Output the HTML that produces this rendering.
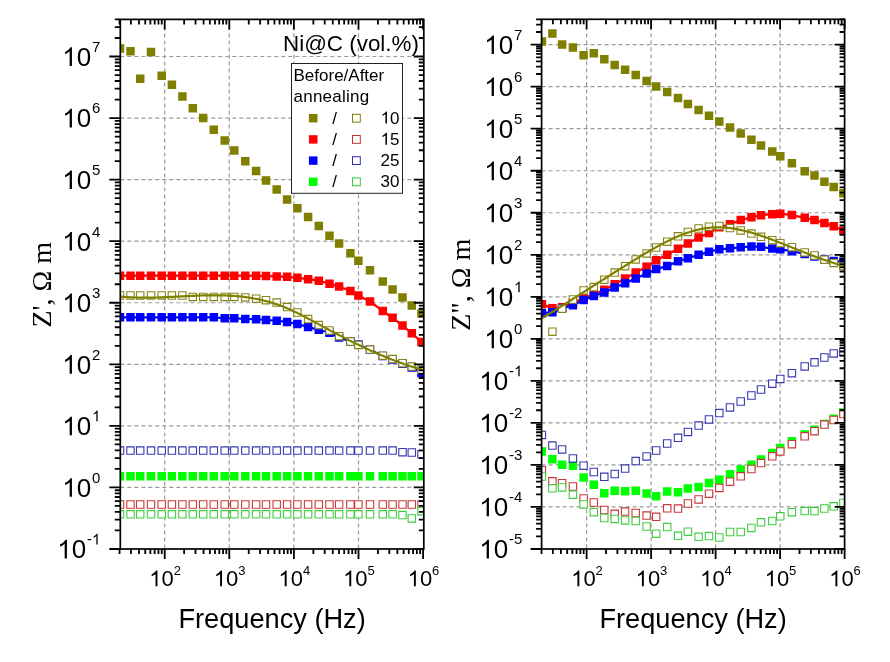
<!DOCTYPE html><html><head><meta charset="utf-8"><style>html,body{margin:0;padding:0;background:#fff;overflow:hidden;}svg{display:block;filter:blur(0.35px);}</style></head><body><svg width="890" height="662" viewBox="0 0 890 662" font-family='"Liberation Sans", sans-serif'>
<rect width="890" height="662" fill="#fff"/>
<g stroke="#9a9a9a" stroke-width="1.2" stroke-dasharray="4 3"><line x1="164.70" y1="19.40" x2="164.70" y2="549.00"/><line x1="229.30" y1="19.40" x2="229.30" y2="549.00"/><line x1="293.90" y1="19.40" x2="293.90" y2="549.00"/><line x1="358.50" y1="19.40" x2="358.50" y2="549.00"/><line x1="120.30" y1="487.44" x2="423.80" y2="487.44"/><line x1="120.30" y1="425.88" x2="423.80" y2="425.88"/><line x1="120.30" y1="364.32" x2="423.80" y2="364.32"/><line x1="120.30" y1="302.76" x2="423.80" y2="302.76"/><line x1="120.30" y1="241.20" x2="423.80" y2="241.20"/><line x1="120.30" y1="179.64" x2="423.80" y2="179.64"/><line x1="120.30" y1="118.08" x2="423.80" y2="118.08"/><line x1="120.30" y1="56.52" x2="423.80" y2="56.52"/></g>
<g stroke="#9a9a9a" stroke-width="1.2" stroke-dasharray="4 3"><line x1="586.60" y1="19.30" x2="586.60" y2="549.00"/><line x1="651.10" y1="19.30" x2="651.10" y2="549.00"/><line x1="715.60" y1="19.30" x2="715.60" y2="549.00"/><line x1="780.10" y1="19.30" x2="780.10" y2="549.00"/><line x1="541.60" y1="506.97" x2="844.60" y2="506.97"/><line x1="541.60" y1="464.94" x2="844.60" y2="464.94"/><line x1="541.60" y1="422.91" x2="844.60" y2="422.91"/><line x1="541.60" y1="380.88" x2="844.60" y2="380.88"/><line x1="541.60" y1="338.85" x2="844.60" y2="338.85"/><line x1="541.60" y1="296.82" x2="844.60" y2="296.82"/><line x1="541.60" y1="254.79" x2="844.60" y2="254.79"/><line x1="541.60" y1="212.76" x2="844.60" y2="212.76"/><line x1="541.60" y1="170.73" x2="844.60" y2="170.73"/><line x1="541.60" y1="128.70" x2="844.60" y2="128.70"/><line x1="541.60" y1="86.67" x2="844.60" y2="86.67"/><line x1="541.60" y1="44.64" x2="844.60" y2="44.64"/></g>
<clipPath id="cl"><rect x="120.30" y="19.40" width="303.50" height="529.60"/></clipPath>
<g clip-path="url(#cl)">
<path d="M115.75 44.15h8.5v8.5h-8.5zM126.25 47.05h8.5v8.5h-8.5zM135.95 74.55h8.5v8.5h-8.5zM146.75 47.75h8.5v8.5h-8.5zM157.45 71.45h8.5v8.5h-8.5zM167.65 80.45h8.5v8.5h-8.5zM178.15 92.15h8.5v8.5h-8.5zM188.55 103.95h8.5v8.5h-8.5zM198.95 113.85h8.5v8.5h-8.5zM209.55 125.55h8.5v8.5h-8.5zM220.45 136.35h8.5v8.5h-8.5zM230.05 146.25h8.5v8.5h-8.5zM241.05 157.05h8.5v8.5h-8.5zM251.85 166.75h8.5v8.5h-8.5zM261.75 176.35h8.5v8.5h-8.5zM272.45 185.25h8.5v8.5h-8.5zM282.85 195.25h8.5v8.5h-8.5zM293.15 203.95h8.5v8.5h-8.5zM303.85 212.85h8.5v8.5h-8.5zM314.55 221.85h8.5v8.5h-8.5zM325.25 231.45h8.5v8.5h-8.5zM334.85 239.15h8.5v8.5h-8.5zM346.15 249.05h8.5v8.5h-8.5zM354.15 256.45h8.5v8.5h-8.5zM365.75 265.95h8.5v8.5h-8.5zM378.55 277.35h8.5v8.5h-8.5zM388.35 285.25h8.5v8.5h-8.5zM398.25 293.15h8.5v8.5h-8.5zM407.55 301.15h8.5v8.5h-8.5zM417.25 309.35h8.5v8.5h-8.5z" fill="#808000"/>
<path d="M120.0 275.7 L130.5 275.7 L140.2 275.7 L151.0 275.7 L161.7 275.7 L171.9 275.7 L182.4 275.7 L192.8 275.7 L203.2 275.7 L213.8 275.7 L224.7 275.7 L234.3 275.7 L245.3 275.7 L256.1 275.8 L266.0 276.1 L276.7 276.4 L287.1 276.8 L297.4 277.8 L308.1 279.2 L318.8 280.7 L329.5 283.7 L339.1 286.6 L350.4 291.1 L358.4 295.5 L370.0 301.4 L382.8 311.0 L392.6 317.8 L402.5 325.5 L411.8 333.3 L421.5 342.1" fill="none" stroke="#ff0000" stroke-width="2.2"/>
<path d="M115.75 271.45h8.5v8.5h-8.5zM126.25 271.45h8.5v8.5h-8.5zM135.95 271.45h8.5v8.5h-8.5zM146.75 271.45h8.5v8.5h-8.5zM157.45 271.45h8.5v8.5h-8.5zM167.65 271.45h8.5v8.5h-8.5zM178.15 271.45h8.5v8.5h-8.5zM188.55 271.45h8.5v8.5h-8.5zM198.95 271.45h8.5v8.5h-8.5zM209.55 271.45h8.5v8.5h-8.5zM220.45 271.45h8.5v8.5h-8.5zM230.05 271.45h8.5v8.5h-8.5zM241.05 271.45h8.5v8.5h-8.5zM251.85 271.55h8.5v8.5h-8.5zM261.75 271.85h8.5v8.5h-8.5zM272.45 272.15h8.5v8.5h-8.5zM282.85 272.55h8.5v8.5h-8.5zM293.15 273.55h8.5v8.5h-8.5zM303.85 274.95h8.5v8.5h-8.5zM314.55 276.45h8.5v8.5h-8.5zM325.25 279.45h8.5v8.5h-8.5zM334.85 282.35h8.5v8.5h-8.5zM346.15 286.85h8.5v8.5h-8.5zM354.15 291.25h8.5v8.5h-8.5zM365.75 297.15h8.5v8.5h-8.5zM378.55 306.75h8.5v8.5h-8.5zM388.35 313.55h8.5v8.5h-8.5zM398.25 321.25h8.5v8.5h-8.5zM407.55 329.05h8.5v8.5h-8.5zM417.25 337.85h8.5v8.5h-8.5z" fill="#ff0000"/>
<path d="M120.0 317.3 L130.5 317.3 L140.2 317.3 L151.0 317.3 L161.7 317.3 L171.9 317.3 L182.4 317.3 L192.8 317.3 L203.2 317.3 L213.8 317.3 L224.7 318.3 L234.3 318.3 L245.3 318.9 L256.1 319.2 L266.0 320.0 L276.7 320.7 L287.1 322.0 L297.4 323.9 L308.1 327.1 L318.8 329.7 L329.5 332.7 L339.1 337.5 L350.4 341.5 L358.4 344.5 L370.0 349.8 L382.8 356.0 L392.6 359.5 L402.5 363.8 L411.8 367.5 L421.5 373.0" fill="none" stroke="#0000ff" stroke-width="2.2"/>
<path d="M115.75 313.05h8.5v8.5h-8.5zM126.25 313.05h8.5v8.5h-8.5zM135.95 313.05h8.5v8.5h-8.5zM146.75 313.05h8.5v8.5h-8.5zM157.45 313.05h8.5v8.5h-8.5zM167.65 313.05h8.5v8.5h-8.5zM178.15 313.05h8.5v8.5h-8.5zM188.55 313.05h8.5v8.5h-8.5zM198.95 313.05h8.5v8.5h-8.5zM209.55 313.05h8.5v8.5h-8.5zM220.45 314.05h8.5v8.5h-8.5zM230.05 314.05h8.5v8.5h-8.5zM241.05 314.65h8.5v8.5h-8.5zM251.85 314.95h8.5v8.5h-8.5zM261.75 315.75h8.5v8.5h-8.5zM272.45 316.45h8.5v8.5h-8.5zM282.85 317.75h8.5v8.5h-8.5zM293.15 319.65h8.5v8.5h-8.5zM303.85 322.85h8.5v8.5h-8.5zM314.55 325.45h8.5v8.5h-8.5zM325.25 328.45h8.5v8.5h-8.5zM334.85 333.25h8.5v8.5h-8.5zM346.15 337.25h8.5v8.5h-8.5zM354.15 340.25h8.5v8.5h-8.5zM365.75 345.55h8.5v8.5h-8.5zM378.55 351.75h8.5v8.5h-8.5zM388.35 355.25h8.5v8.5h-8.5zM398.25 359.55h8.5v8.5h-8.5zM407.55 363.25h8.5v8.5h-8.5zM417.25 368.75h8.5v8.5h-8.5z" fill="#0000ff"/>
<path d="M115.75 472.05h8.5v8.5h-8.5zM126.25 472.05h8.5v8.5h-8.5zM135.95 472.05h8.5v8.5h-8.5zM146.75 472.05h8.5v8.5h-8.5zM157.45 472.05h8.5v8.5h-8.5zM167.65 472.05h8.5v8.5h-8.5zM178.15 472.05h8.5v8.5h-8.5zM188.55 472.05h8.5v8.5h-8.5zM198.95 472.05h8.5v8.5h-8.5zM209.55 472.05h8.5v8.5h-8.5zM220.45 472.05h8.5v8.5h-8.5zM230.05 472.05h8.5v8.5h-8.5zM241.05 472.05h8.5v8.5h-8.5zM251.85 472.05h8.5v8.5h-8.5zM261.75 472.05h8.5v8.5h-8.5zM272.45 472.05h8.5v8.5h-8.5zM282.85 472.05h8.5v8.5h-8.5zM293.15 472.05h8.5v8.5h-8.5zM303.85 472.05h8.5v8.5h-8.5zM314.55 472.05h8.5v8.5h-8.5zM325.25 472.05h8.5v8.5h-8.5zM334.85 472.05h8.5v8.5h-8.5zM346.15 472.05h8.5v8.5h-8.5zM354.15 472.05h8.5v8.5h-8.5zM365.75 472.05h8.5v8.5h-8.5zM378.55 472.05h8.5v8.5h-8.5zM388.35 472.05h8.5v8.5h-8.5zM398.25 472.05h8.5v8.5h-8.5zM407.55 472.05h8.5v8.5h-8.5zM417.25 472.05h8.5v8.5h-8.5z" fill="#00ff00"/>
<path d="M116.30 291.80h7.40v7.40h-7.40zM126.80 291.80h7.40v7.40h-7.40zM136.50 291.80h7.40v7.40h-7.40zM147.30 291.80h7.40v7.40h-7.40zM158.00 291.80h7.40v7.40h-7.40zM168.20 291.80h7.40v7.40h-7.40zM178.70 291.80h7.40v7.40h-7.40zM189.10 293.20h7.40v7.40h-7.40zM199.50 293.20h7.40v7.40h-7.40zM210.10 293.20h7.40v7.40h-7.40zM221.00 293.20h7.40v7.40h-7.40zM230.60 293.20h7.40v7.40h-7.40zM241.60 293.70h7.40v7.40h-7.40zM252.40 295.00h7.40v7.40h-7.40zM262.30 296.50h7.40v7.40h-7.40zM273.00 298.90h7.40v7.40h-7.40zM283.40 303.40h7.40v7.40h-7.40zM293.70 308.80h7.40v7.40h-7.40zM304.40 315.40h7.40v7.40h-7.40zM315.10 321.40h7.40v7.40h-7.40zM325.80 326.80h7.40v7.40h-7.40zM335.40 332.50h7.40v7.40h-7.40zM346.70 337.80h7.40v7.40h-7.40zM354.70 341.20h7.40v7.40h-7.40zM366.30 345.90h7.40v7.40h-7.40zM379.10 352.00h7.40v7.40h-7.40zM388.90 355.40h7.40v7.40h-7.40zM398.80 359.50h7.40v7.40h-7.40zM408.10 362.90h7.40v7.40h-7.40zM417.80 365.80h7.40v7.40h-7.40z" fill="#fff" stroke="#85851a" stroke-width="1.1"/>
<path d="M116.30 500.80h7.40v7.40h-7.40zM126.80 500.80h7.40v7.40h-7.40zM136.50 500.80h7.40v7.40h-7.40zM147.30 500.80h7.40v7.40h-7.40zM158.00 500.80h7.40v7.40h-7.40zM168.20 500.80h7.40v7.40h-7.40zM178.70 500.80h7.40v7.40h-7.40zM189.10 500.80h7.40v7.40h-7.40zM199.50 500.80h7.40v7.40h-7.40zM210.10 500.80h7.40v7.40h-7.40zM221.00 500.80h7.40v7.40h-7.40zM230.60 500.80h7.40v7.40h-7.40zM241.60 500.80h7.40v7.40h-7.40zM252.40 500.80h7.40v7.40h-7.40zM262.30 500.80h7.40v7.40h-7.40zM273.00 500.80h7.40v7.40h-7.40zM283.40 500.80h7.40v7.40h-7.40zM293.70 500.80h7.40v7.40h-7.40zM304.40 500.80h7.40v7.40h-7.40zM315.10 500.80h7.40v7.40h-7.40zM325.80 500.80h7.40v7.40h-7.40zM335.40 500.80h7.40v7.40h-7.40zM346.70 500.80h7.40v7.40h-7.40zM354.70 500.80h7.40v7.40h-7.40zM366.30 500.80h7.40v7.40h-7.40zM379.10 500.80h7.40v7.40h-7.40zM388.90 500.80h7.40v7.40h-7.40zM398.80 500.80h7.40v7.40h-7.40zM408.10 500.80h7.40v7.40h-7.40zM417.80 500.80h7.40v7.40h-7.40z" fill="#fff" stroke="#c83838" stroke-width="1.1"/>
<path d="M116.30 446.90h7.40v7.40h-7.40zM126.80 446.90h7.40v7.40h-7.40zM136.50 446.90h7.40v7.40h-7.40zM147.30 446.90h7.40v7.40h-7.40zM158.00 446.90h7.40v7.40h-7.40zM168.20 446.90h7.40v7.40h-7.40zM178.70 446.90h7.40v7.40h-7.40zM189.10 446.90h7.40v7.40h-7.40zM199.50 446.90h7.40v7.40h-7.40zM210.10 446.90h7.40v7.40h-7.40zM221.00 446.90h7.40v7.40h-7.40zM230.60 446.90h7.40v7.40h-7.40zM241.60 446.90h7.40v7.40h-7.40zM252.40 446.90h7.40v7.40h-7.40zM262.30 446.90h7.40v7.40h-7.40zM273.00 446.90h7.40v7.40h-7.40zM283.40 446.90h7.40v7.40h-7.40zM293.70 446.90h7.40v7.40h-7.40zM304.40 446.90h7.40v7.40h-7.40zM315.10 446.90h7.40v7.40h-7.40zM325.80 446.90h7.40v7.40h-7.40zM335.40 446.90h7.40v7.40h-7.40zM346.70 446.90h7.40v7.40h-7.40zM354.70 446.90h7.40v7.40h-7.40zM366.30 446.90h7.40v7.40h-7.40zM379.10 446.90h7.40v7.40h-7.40zM388.90 446.90h7.40v7.40h-7.40zM398.80 448.50h7.40v7.40h-7.40zM408.10 448.80h7.40v7.40h-7.40zM417.80 450.60h7.40v7.40h-7.40z" fill="#fff" stroke="#3838b0" stroke-width="1.1"/>
<path d="M116.30 510.60h7.40v7.40h-7.40zM126.80 510.60h7.40v7.40h-7.40zM136.50 510.60h7.40v7.40h-7.40zM147.30 510.60h7.40v7.40h-7.40zM158.00 510.60h7.40v7.40h-7.40zM168.20 510.60h7.40v7.40h-7.40zM178.70 510.60h7.40v7.40h-7.40zM189.10 510.60h7.40v7.40h-7.40zM199.50 510.60h7.40v7.40h-7.40zM210.10 510.60h7.40v7.40h-7.40zM221.00 510.60h7.40v7.40h-7.40zM230.60 510.60h7.40v7.40h-7.40zM241.60 510.60h7.40v7.40h-7.40zM252.40 510.60h7.40v7.40h-7.40zM262.30 510.60h7.40v7.40h-7.40zM273.00 510.60h7.40v7.40h-7.40zM283.40 510.60h7.40v7.40h-7.40zM293.70 510.60h7.40v7.40h-7.40zM304.40 510.60h7.40v7.40h-7.40zM315.10 510.60h7.40v7.40h-7.40zM325.80 510.60h7.40v7.40h-7.40zM335.40 510.60h7.40v7.40h-7.40zM346.70 510.60h7.40v7.40h-7.40zM354.70 510.60h7.40v7.40h-7.40zM366.30 510.60h7.40v7.40h-7.40zM379.10 510.60h7.40v7.40h-7.40zM388.90 510.60h7.40v7.40h-7.40zM398.80 511.40h7.40v7.40h-7.40zM408.10 514.70h7.40v7.40h-7.40zM417.80 507.50h7.40v7.40h-7.40z" fill="#fff" stroke="#40cc40" stroke-width="1.1"/>
<path d="M112.0 295.5 L113.5 295.8 L115.0 296.0 L116.5 296.1 L118.0 296.3 L119.5 296.5 L121.0 296.6 L122.5 296.8 L124.0 296.9 L125.5 297.0 L127.0 297.1 L128.5 297.2 L130.0 297.3 L131.5 297.4 L133.0 297.4 L134.5 297.5 L136.0 297.5 L137.5 297.6 L139.0 297.6 L140.5 297.6 L142.0 297.7 L143.5 297.7 L145.0 297.7 L146.5 297.7 L148.0 297.7 L149.5 297.6 L151.0 297.6 L152.5 297.6 L154.0 297.6 L155.5 297.5 L157.0 297.5 L158.5 297.4 L160.0 297.4 L161.5 297.3 L163.0 297.3 L164.5 297.2 L166.0 297.1 L167.5 297.1 L169.0 297.0 L170.5 296.9 L172.0 296.9 L173.5 296.8 L175.0 296.7 L176.5 296.6 L178.0 296.6 L179.5 296.5 L181.0 296.4 L182.5 296.3 L184.0 296.3 L185.5 296.2 L187.0 296.1 L188.5 296.0 L190.0 296.0 L191.5 295.9 L193.0 295.8 L194.5 295.8 L196.0 295.7 L197.5 295.6 L199.0 295.6 L200.5 295.5 L202.0 295.5 L203.5 295.4 L205.0 295.4 L206.5 295.4 L208.0 295.3 L209.5 295.3 L211.0 295.3 L212.5 295.3 L214.0 295.3 L215.5 295.3 L217.0 295.3 L218.5 295.3 L220.0 295.3 L221.5 295.4 L223.0 295.4 L224.5 295.4 L226.0 295.5 L227.5 295.6 L229.0 295.6 L230.5 295.7 L232.0 295.8 L233.5 295.9 L235.0 296.0 L236.5 296.1 L238.0 296.3 L239.5 296.4 L241.0 296.6 L242.5 296.7 L244.0 296.9 L245.5 297.1 L247.0 297.3 L248.5 297.5 L250.0 297.8 L251.5 298.0 L253.0 298.3 L254.5 298.5 L256.0 298.8 L257.5 299.1 L259.0 299.4 L260.5 299.8 L262.0 300.1 L263.5 300.5 L265.0 300.8 L266.5 301.2 L268.0 301.6 L269.5 302.1 L271.0 302.5 L272.5 303.0 L274.0 303.4 L275.5 303.9 L277.0 304.4 L278.5 304.9 L280.0 305.5 L281.5 306.0 L283.0 306.6 L284.5 307.2 L286.0 307.8 L287.5 308.5 L289.0 309.1 L290.5 309.8 L292.0 310.5 L293.5 311.2 L295.0 311.9 L296.5 312.6 L298.0 313.3 L299.5 314.1 L301.0 314.8 L302.5 315.6 L304.0 316.4 L305.5 317.2 L307.0 318.0 L308.5 318.8 L310.0 319.6 L311.5 320.4 L313.0 321.2 L314.5 322.0 L316.0 322.8 L317.5 323.6 L319.0 324.4 L320.5 325.2 L322.0 326.1 L323.5 326.9 L325.0 327.7 L326.5 328.5 L328.0 329.3 L329.5 330.1 L331.0 330.9 L332.5 331.7 L334.0 332.4 L335.5 333.2 L337.0 334.0 L338.5 334.8 L340.0 335.6 L341.5 336.3 L343.0 337.1 L344.5 337.9 L346.0 338.6 L347.5 339.4 L349.0 340.2 L350.5 340.9 L352.0 341.7 L353.5 342.4 L355.0 343.1 L356.5 343.9 L358.0 344.6 L359.5 345.3 L361.0 346.0 L362.5 346.8 L364.0 347.5 L365.5 348.2 L367.0 348.9 L368.5 349.6 L370.0 350.2 L371.5 350.9 L373.0 351.6 L374.5 352.3 L376.0 352.9 L377.5 353.6 L379.0 354.2 L380.5 354.9 L382.0 355.5 L383.5 356.1 L385.0 356.8 L386.5 357.4 L388.0 358.0 L389.5 358.6 L391.0 359.2 L392.5 359.8 L394.0 360.3 L395.5 360.9 L397.0 361.5 L398.5 362.0 L400.0 362.6 L401.5 363.1 L403.0 363.6 L404.5 364.2 L406.0 364.7 L407.5 365.2 L409.0 365.7 L410.5 366.2 L412.0 366.6 L413.5 367.1 L415.0 367.6 L416.5 368.0 L418.0 368.5 L419.5 368.9 L421.0 369.3 L422.5 369.7 L424.0 370.1 L425.5 370.5 L427.0 370.9 L428.5 371.3 L430.0 371.6" fill="none" stroke="#808000" stroke-width="2.2" stroke-linejoin="round"/>
<path d="" fill="#808000"/>
</g>
<clipPath id="cr"><rect x="541.60" y="19.30" width="303.00" height="529.70"/></clipPath>
<g clip-path="url(#cr)">
<path d="M537.65 37.25h8.5v8.5h-8.5zM548.15 29.35h8.5v8.5h-8.5zM557.85 40.15h8.5v8.5h-8.5zM568.65 43.25h8.5v8.5h-8.5zM579.35 50.95h8.5v8.5h-8.5zM589.55 49.05h8.5v8.5h-8.5zM600.05 54.95h8.5v8.5h-8.5zM610.45 60.75h8.5v8.5h-8.5zM620.85 65.55h8.5v8.5h-8.5zM631.45 70.85h8.5v8.5h-8.5zM642.35 76.65h8.5v8.5h-8.5zM651.95 82.25h8.5v8.5h-8.5zM662.95 87.75h8.5v8.5h-8.5zM673.75 93.85h8.5v8.5h-8.5zM683.65 99.65h8.5v8.5h-8.5zM694.35 105.85h8.5v8.5h-8.5zM704.75 111.55h8.5v8.5h-8.5zM715.05 117.25h8.5v8.5h-8.5zM725.75 123.35h8.5v8.5h-8.5zM736.45 129.35h8.5v8.5h-8.5zM747.15 135.45h8.5v8.5h-8.5zM756.75 141.15h8.5v8.5h-8.5zM768.05 147.25h8.5v8.5h-8.5zM776.05 152.05h8.5v8.5h-8.5zM787.65 158.95h8.5v8.5h-8.5zM800.45 166.95h8.5v8.5h-8.5zM810.25 171.35h8.5v8.5h-8.5zM820.15 177.45h8.5v8.5h-8.5zM829.45 182.75h8.5v8.5h-8.5zM839.15 188.95h8.5v8.5h-8.5z" fill="#808000"/>
<path d="M541.9 304.2 L552.4 308.3 L562.1 307.2 L572.9 302.5 L583.6 298.3 L593.8 294.2 L604.3 289.7 L614.7 284.2 L625.1 278.5 L635.7 272.6 L646.6 266.7 L656.2 260.3 L667.2 254.7 L678.0 248.8 L687.9 243.4 L698.6 237.5 L709.0 232.9 L719.3 227.2 L730.0 224.2 L740.7 220.1 L751.4 217.2 L761.0 215.2 L772.3 214.2 L780.3 213.7 L791.9 215.1 L804.7 217.8 L814.5 220.1 L824.4 222.9 L833.7 226.3 L843.4 230.6" fill="none" stroke="#ff0000" stroke-width="2.2"/>
<path d="M537.65 299.95h8.5v8.5h-8.5zM548.15 304.05h8.5v8.5h-8.5zM557.85 302.95h8.5v8.5h-8.5zM568.65 298.25h8.5v8.5h-8.5zM579.35 294.05h8.5v8.5h-8.5zM589.55 289.95h8.5v8.5h-8.5zM600.05 285.45h8.5v8.5h-8.5zM610.45 279.95h8.5v8.5h-8.5zM620.85 274.25h8.5v8.5h-8.5zM631.45 268.35h8.5v8.5h-8.5zM642.35 262.45h8.5v8.5h-8.5zM651.95 256.05h8.5v8.5h-8.5zM662.95 250.45h8.5v8.5h-8.5zM673.75 244.55h8.5v8.5h-8.5zM683.65 239.15h8.5v8.5h-8.5zM694.35 233.25h8.5v8.5h-8.5zM704.75 228.65h8.5v8.5h-8.5zM715.05 222.95h8.5v8.5h-8.5zM725.75 219.95h8.5v8.5h-8.5zM736.45 215.85h8.5v8.5h-8.5zM747.15 212.95h8.5v8.5h-8.5zM756.75 210.95h8.5v8.5h-8.5zM768.05 209.95h8.5v8.5h-8.5zM776.05 209.45h8.5v8.5h-8.5zM787.65 210.85h8.5v8.5h-8.5zM800.45 213.55h8.5v8.5h-8.5zM810.25 215.85h8.5v8.5h-8.5zM820.15 218.65h8.5v8.5h-8.5zM829.45 222.05h8.5v8.5h-8.5zM839.15 226.35h8.5v8.5h-8.5z" fill="#ff0000"/>
<path d="M541.9 313.2 L552.4 312.2 L562.1 308.5 L572.9 305.2 L583.6 300.1 L593.8 296.1 L604.3 292.4 L614.7 287.5 L625.1 283.3 L635.7 278.4 L646.6 273.5 L656.2 269.1 L667.2 266.1 L678.0 261.2 L687.9 258.2 L698.6 254.7 L709.0 251.8 L719.3 249.3 L730.0 248.3 L740.7 247.3 L751.4 246.4 L761.0 246.8 L772.3 248.6 L780.3 249.3 L791.9 251.2 L804.7 254.0 L814.5 256.4 L824.4 259.6 L833.7 260.9 L843.4 262.0" fill="none" stroke="#0000ff" stroke-width="2.2"/>
<path d="M537.65 308.95h8.5v8.5h-8.5zM548.15 307.95h8.5v8.5h-8.5zM557.85 304.25h8.5v8.5h-8.5zM568.65 300.95h8.5v8.5h-8.5zM579.35 295.85h8.5v8.5h-8.5zM589.55 291.85h8.5v8.5h-8.5zM600.05 288.15h8.5v8.5h-8.5zM610.45 283.25h8.5v8.5h-8.5zM620.85 279.05h8.5v8.5h-8.5zM631.45 274.15h8.5v8.5h-8.5zM642.35 269.25h8.5v8.5h-8.5zM651.95 264.85h8.5v8.5h-8.5zM662.95 261.85h8.5v8.5h-8.5zM673.75 256.95h8.5v8.5h-8.5zM683.65 253.95h8.5v8.5h-8.5zM694.35 250.45h8.5v8.5h-8.5zM704.75 247.55h8.5v8.5h-8.5zM715.05 245.05h8.5v8.5h-8.5zM725.75 244.05h8.5v8.5h-8.5zM736.45 243.05h8.5v8.5h-8.5zM747.15 242.15h8.5v8.5h-8.5zM756.75 242.55h8.5v8.5h-8.5zM768.05 244.35h8.5v8.5h-8.5zM776.05 245.05h8.5v8.5h-8.5zM787.65 246.95h8.5v8.5h-8.5zM800.45 249.75h8.5v8.5h-8.5zM810.25 252.15h8.5v8.5h-8.5zM820.15 255.35h8.5v8.5h-8.5zM829.45 256.65h8.5v8.5h-8.5zM839.15 257.75h8.5v8.5h-8.5z" fill="#0000ff"/>
<path d="M537.65 447.15h8.5v8.5h-8.5zM548.15 455.05h8.5v8.5h-8.5zM557.85 460.55h8.5v8.5h-8.5zM568.65 461.45h8.5v8.5h-8.5zM579.35 473.15h8.5v8.5h-8.5zM589.55 480.45h8.5v8.5h-8.5zM600.05 489.05h8.5v8.5h-8.5zM610.45 486.45h8.5v8.5h-8.5zM620.85 486.95h8.5v8.5h-8.5zM631.45 486.45h8.5v8.5h-8.5zM642.35 489.15h8.5v8.5h-8.5zM651.95 492.05h8.5v8.5h-8.5zM662.95 487.15h8.5v8.5h-8.5zM673.75 488.05h8.5v8.5h-8.5zM683.65 484.25h8.5v8.5h-8.5zM694.35 482.75h8.5v8.5h-8.5zM704.75 478.85h8.5v8.5h-8.5zM715.05 475.45h8.5v8.5h-8.5zM725.75 470.05h8.5v8.5h-8.5zM736.45 465.25h8.5v8.5h-8.5zM747.15 460.45h8.5v8.5h-8.5zM756.75 455.15h8.5v8.5h-8.5zM768.05 448.65h8.5v8.5h-8.5zM776.05 443.85h8.5v8.5h-8.5zM787.65 437.05h8.5v8.5h-8.5zM800.45 430.25h8.5v8.5h-8.5zM810.25 425.45h8.5v8.5h-8.5zM820.15 419.65h8.5v8.5h-8.5zM829.45 414.45h8.5v8.5h-8.5zM839.15 408.35h8.5v8.5h-8.5z" fill="#00ff00"/>
<path d="M548.70 328.00h7.40v7.40h-7.40zM558.40 305.00h7.40v7.40h-7.40zM569.20 295.80h7.40v7.40h-7.40zM579.90 286.70h7.40v7.40h-7.40zM590.10 283.40h7.40v7.40h-7.40zM600.60 276.00h7.40v7.40h-7.40zM611.00 268.90h7.40v7.40h-7.40zM621.40 262.50h7.40v7.40h-7.40zM632.00 255.70h7.40v7.40h-7.40zM642.90 249.70h7.40v7.40h-7.40zM652.50 243.80h7.40v7.40h-7.40zM663.50 238.00h7.40v7.40h-7.40zM674.30 232.60h7.40v7.40h-7.40zM684.20 228.20h7.40v7.40h-7.40zM694.90 224.80h7.40v7.40h-7.40zM705.30 223.00h7.40v7.40h-7.40zM715.60 222.30h7.40v7.40h-7.40zM726.30 224.40h7.40v7.40h-7.40zM737.00 226.70h7.40v7.40h-7.40zM747.70 229.90h7.40v7.40h-7.40zM757.30 233.10h7.40v7.40h-7.40zM768.60 236.50h7.40v7.40h-7.40zM776.60 239.50h7.40v7.40h-7.40zM788.20 243.50h7.40v7.40h-7.40zM801.00 248.70h7.40v7.40h-7.40zM810.80 251.80h7.40v7.40h-7.40zM820.70 256.00h7.40v7.40h-7.40zM830.00 259.20h7.40v7.40h-7.40zM839.70 262.30h7.40v7.40h-7.40z" fill="#fff" stroke="#85851a" stroke-width="1.1"/>
<path d="M538.20 466.50h7.40v7.40h-7.40zM548.70 477.60h7.40v7.40h-7.40zM558.40 479.50h7.40v7.40h-7.40zM569.20 482.80h7.40v7.40h-7.40zM579.90 494.80h7.40v7.40h-7.40zM590.10 498.80h7.40v7.40h-7.40zM600.60 506.30h7.40v7.40h-7.40zM611.00 510.10h7.40v7.40h-7.40zM621.40 507.90h7.40v7.40h-7.40zM632.00 509.30h7.40v7.40h-7.40zM642.90 511.90h7.40v7.40h-7.40zM652.50 513.10h7.40v7.40h-7.40zM663.50 504.60h7.40v7.40h-7.40zM674.30 504.90h7.40v7.40h-7.40zM684.20 499.80h7.40v7.40h-7.40zM694.90 495.70h7.40v7.40h-7.40zM705.30 490.00h7.40v7.40h-7.40zM715.60 484.20h7.40v7.40h-7.40zM726.30 478.00h7.40v7.40h-7.40zM737.00 472.60h7.40v7.40h-7.40zM747.70 465.30h7.40v7.40h-7.40zM757.30 459.40h7.40v7.40h-7.40zM768.60 452.60h7.40v7.40h-7.40zM776.60 447.70h7.40v7.40h-7.40zM788.20 440.50h7.40v7.40h-7.40zM801.00 432.60h7.40v7.40h-7.40zM810.80 427.50h7.40v7.40h-7.40zM820.70 420.90h7.40v7.40h-7.40zM830.00 416.30h7.40v7.40h-7.40zM839.70 410.30h7.40v7.40h-7.40z" fill="#fff" stroke="#c83838" stroke-width="1.1"/>
<path d="M538.20 431.20h7.40v7.40h-7.40zM548.70 441.90h7.40v7.40h-7.40zM558.40 445.70h7.40v7.40h-7.40zM569.20 454.70h7.40v7.40h-7.40zM579.90 462.00h7.40v7.40h-7.40zM590.10 468.30h7.40v7.40h-7.40zM600.60 473.10h7.40v7.40h-7.40zM611.00 470.30h7.40v7.40h-7.40zM621.40 464.90h7.40v7.40h-7.40zM632.00 457.40h7.40v7.40h-7.40zM642.90 452.70h7.40v7.40h-7.40zM652.50 446.80h7.40v7.40h-7.40zM663.50 439.80h7.40v7.40h-7.40zM674.30 434.10h7.40v7.40h-7.40zM684.20 428.20h7.40v7.40h-7.40zM694.90 421.90h7.40v7.40h-7.40zM705.30 415.70h7.40v7.40h-7.40zM715.60 409.40h7.40v7.40h-7.40zM726.30 403.70h7.40v7.40h-7.40zM737.00 397.80h7.40v7.40h-7.40zM747.70 391.80h7.40v7.40h-7.40zM757.30 385.80h7.40v7.40h-7.40zM768.60 380.00h7.40v7.40h-7.40zM776.60 375.20h7.40v7.40h-7.40zM788.20 369.50h7.40v7.40h-7.40zM801.00 362.70h7.40v7.40h-7.40zM810.80 358.60h7.40v7.40h-7.40zM820.70 353.80h7.40v7.40h-7.40zM830.00 349.70h7.40v7.40h-7.40zM839.70 348.30h7.40v7.40h-7.40z" fill="#fff" stroke="#3838b0" stroke-width="1.1"/>
<path d="M538.20 472.80h7.40v7.40h-7.40zM548.70 484.60h7.40v7.40h-7.40zM558.40 483.70h7.40v7.40h-7.40zM569.20 491.00h7.40v7.40h-7.40zM579.90 500.70h7.40v7.40h-7.40zM590.10 508.50h7.40v7.40h-7.40zM600.60 514.30h7.40v7.40h-7.40zM611.00 515.20h7.40v7.40h-7.40zM621.40 516.70h7.40v7.40h-7.40zM632.00 517.30h7.40v7.40h-7.40zM642.90 522.80h7.40v7.40h-7.40zM652.50 530.00h7.40v7.40h-7.40zM663.50 523.40h7.40v7.40h-7.40zM674.30 532.10h7.40v7.40h-7.40zM684.20 528.00h7.40v7.40h-7.40zM694.90 533.10h7.40v7.40h-7.40zM705.30 532.40h7.40v7.40h-7.40zM715.60 533.80h7.40v7.40h-7.40zM726.30 528.30h7.40v7.40h-7.40zM737.00 528.30h7.40v7.40h-7.40zM747.70 524.20h7.40v7.40h-7.40zM757.30 518.60h7.40v7.40h-7.40zM768.60 517.30h7.40v7.40h-7.40zM776.60 512.60h7.40v7.40h-7.40zM788.20 508.50h7.40v7.40h-7.40zM801.00 507.40h7.40v7.40h-7.40zM810.80 507.40h7.40v7.40h-7.40zM820.70 504.80h7.40v7.40h-7.40zM830.00 502.60h7.40v7.40h-7.40zM839.70 499.30h7.40v7.40h-7.40z" fill="#fff" stroke="#40cc40" stroke-width="1.1"/>
<path d="M536.0 321.9 L537.5 321.0 L539.0 320.1 L540.5 319.2 L542.0 318.3 L543.5 317.3 L545.0 316.4 L546.5 315.5 L548.0 314.6 L549.5 313.6 L551.0 312.7 L552.5 311.8 L554.0 310.8 L555.5 309.9 L557.0 309.0 L558.5 308.0 L560.0 307.1 L561.5 306.1 L563.0 305.2 L564.5 304.3 L566.0 303.3 L567.5 302.4 L569.0 301.4 L570.5 300.5 L572.0 299.5 L573.5 298.5 L575.0 297.6 L576.5 296.6 L578.0 295.7 L579.5 294.7 L581.0 293.8 L582.5 292.8 L584.0 291.9 L585.5 290.9 L587.0 289.9 L588.5 289.0 L590.0 288.0 L591.5 287.1 L593.0 286.1 L594.5 285.1 L596.0 284.2 L597.5 283.2 L599.0 282.3 L600.5 281.3 L602.0 280.4 L603.5 279.4 L605.0 278.5 L606.5 277.5 L608.0 276.5 L609.5 275.6 L611.0 274.6 L612.5 273.7 L614.0 272.7 L615.5 271.8 L617.0 270.9 L618.5 269.9 L620.0 269.0 L621.5 268.0 L623.0 267.1 L624.5 266.2 L626.0 265.2 L627.5 264.3 L629.0 263.4 L630.5 262.4 L632.0 261.5 L633.5 260.6 L635.0 259.7 L636.5 258.7 L638.0 257.8 L639.5 256.9 L641.0 256.0 L642.5 255.1 L644.0 254.2 L645.5 253.3 L647.0 252.4 L648.5 251.5 L650.0 250.7 L651.5 249.8 L653.0 248.9 L654.5 248.1 L656.0 247.3 L657.5 246.4 L659.0 245.6 L660.5 244.8 L662.0 244.0 L663.5 243.2 L665.0 242.4 L666.5 241.7 L668.0 240.9 L669.5 240.2 L671.0 239.5 L672.5 238.8 L674.0 238.1 L675.5 237.4 L677.0 236.8 L678.5 236.1 L680.0 235.5 L681.5 234.9 L683.0 234.3 L684.5 233.8 L686.0 233.2 L687.5 232.7 L689.0 232.2 L690.5 231.7 L692.0 231.3 L693.5 230.8 L695.0 230.4 L696.5 230.0 L698.0 229.7 L699.5 229.3 L701.0 229.0 L702.5 228.7 L704.0 228.5 L705.5 228.2 L707.0 228.0 L708.5 227.8 L710.0 227.7 L711.5 227.5 L713.0 227.4 L714.5 227.4 L716.0 227.3 L717.5 227.3 L719.0 227.3 L720.5 227.4 L722.0 227.4 L723.5 227.5 L725.0 227.6 L726.5 227.7 L728.0 227.9 L729.5 228.0 L731.0 228.2 L732.5 228.4 L734.0 228.7 L735.5 228.9 L737.0 229.2 L738.5 229.5 L740.0 229.8 L741.5 230.1 L743.0 230.5 L744.5 230.8 L746.0 231.2 L747.5 231.6 L749.0 232.0 L750.5 232.4 L752.0 232.8 L753.5 233.3 L755.0 233.7 L756.5 234.2 L758.0 234.7 L759.5 235.2 L761.0 235.7 L762.5 236.2 L764.0 236.7 L765.5 237.2 L767.0 237.8 L768.5 238.3 L770.0 238.9 L771.5 239.4 L773.0 240.0 L774.5 240.6 L776.0 241.1 L777.5 241.7 L779.0 242.3 L780.5 242.9 L782.0 243.5 L783.5 244.1 L785.0 244.7 L786.5 245.3 L788.0 245.9 L789.5 246.5 L791.0 247.1 L792.5 247.7 L794.0 248.3 L795.5 248.9 L797.0 249.5 L798.5 250.1 L800.0 250.7 L801.5 251.2 L803.0 251.8 L804.5 252.4 L806.0 253.0 L807.5 253.6 L809.0 254.2 L810.5 254.8 L812.0 255.4 L813.5 255.9 L815.0 256.5 L816.5 257.1 L818.0 257.6 L819.5 258.2 L821.0 258.7 L822.5 259.3 L824.0 259.8 L825.5 260.3 L827.0 260.8 L828.5 261.3 L830.0 261.9 L831.5 262.3 L833.0 262.8 L834.5 263.3 L836.0 263.8 L837.5 264.2 L839.0 264.7 L840.5 265.1 L842.0 265.6 L843.5 266.0 L845.0 266.4 L846.5 266.8 L848.0 267.2 L849.5 267.5" fill="none" stroke="#808000" stroke-width="2.2" stroke-linejoin="round"/>
<path d="" fill="#808000"/>
</g>
<path d="M119.55 549.00v5M119.55 19.40v5M130.92 549.00v5M130.92 19.40v5M138.99 549.00v5M138.99 19.40v5M145.25 549.00v5M145.25 19.40v5M150.37 549.00v5M150.37 19.40v5M154.69 549.00v5M154.69 19.40v5M158.44 549.00v5M158.44 19.40v5M161.74 549.00v5M161.74 19.40v5M164.70 549.00v10M164.70 19.40v10M184.15 549.00v5M184.15 19.40v5M195.52 549.00v5M195.52 19.40v5M203.59 549.00v5M203.59 19.40v5M209.85 549.00v5M209.85 19.40v5M214.97 549.00v5M214.97 19.40v5M219.29 549.00v5M219.29 19.40v5M223.04 549.00v5M223.04 19.40v5M226.34 549.00v5M226.34 19.40v5M229.30 549.00v10M229.30 19.40v10M248.75 549.00v5M248.75 19.40v5M260.12 549.00v5M260.12 19.40v5M268.19 549.00v5M268.19 19.40v5M274.45 549.00v5M274.45 19.40v5M279.57 549.00v5M279.57 19.40v5M283.89 549.00v5M283.89 19.40v5M287.64 549.00v5M287.64 19.40v5M290.94 549.00v5M290.94 19.40v5M293.90 549.00v10M293.90 19.40v10M313.35 549.00v5M313.35 19.40v5M324.72 549.00v5M324.72 19.40v5M332.79 549.00v5M332.79 19.40v5M339.05 549.00v5M339.05 19.40v5M344.17 549.00v5M344.17 19.40v5M348.49 549.00v5M348.49 19.40v5M352.24 549.00v5M352.24 19.40v5M355.54 549.00v5M355.54 19.40v5M358.50 549.00v10M358.50 19.40v10M377.95 549.00v5M377.95 19.40v5M389.32 549.00v5M389.32 19.40v5M397.39 549.00v5M397.39 19.40v5M403.65 549.00v5M403.65 19.40v5M408.77 549.00v5M408.77 19.40v5M413.09 549.00v5M413.09 19.40v5M416.84 549.00v5M416.84 19.40v5M420.14 549.00v5M420.14 19.40v5M423.10 549.00v10M423.10 19.40v10M120.30 549.00h-11M423.80 549.00h-10M120.30 530.47h-5.5M423.80 530.47h-5M120.30 519.63h-5.5M423.80 519.63h-5M120.30 511.94h-5.5M423.80 511.94h-5M120.30 505.97h-5.5M423.80 505.97h-5M120.30 501.10h-5.5M423.80 501.10h-5M120.30 496.98h-5.5M423.80 496.98h-5M120.30 493.41h-5.5M423.80 493.41h-5M120.30 490.26h-5.5M423.80 490.26h-5M120.30 487.44h-11M423.80 487.44h-10M120.30 468.91h-5.5M423.80 468.91h-5M120.30 458.07h-5.5M423.80 458.07h-5M120.30 450.38h-5.5M423.80 450.38h-5M120.30 444.41h-5.5M423.80 444.41h-5M120.30 439.54h-5.5M423.80 439.54h-5M120.30 435.42h-5.5M423.80 435.42h-5M120.30 431.85h-5.5M423.80 431.85h-5M120.30 428.70h-5.5M423.80 428.70h-5M120.30 425.88h-11M423.80 425.88h-10M120.30 407.35h-5.5M423.80 407.35h-5M120.30 396.51h-5.5M423.80 396.51h-5M120.30 388.82h-5.5M423.80 388.82h-5M120.30 382.85h-5.5M423.80 382.85h-5M120.30 377.98h-5.5M423.80 377.98h-5M120.30 373.86h-5.5M423.80 373.86h-5M120.30 370.29h-5.5M423.80 370.29h-5M120.30 367.14h-5.5M423.80 367.14h-5M120.30 364.32h-11M423.80 364.32h-10M120.30 345.79h-5.5M423.80 345.79h-5M120.30 334.95h-5.5M423.80 334.95h-5M120.30 327.26h-5.5M423.80 327.26h-5M120.30 321.29h-5.5M423.80 321.29h-5M120.30 316.42h-5.5M423.80 316.42h-5M120.30 312.30h-5.5M423.80 312.30h-5M120.30 308.73h-5.5M423.80 308.73h-5M120.30 305.58h-5.5M423.80 305.58h-5M120.30 302.76h-11M423.80 302.76h-10M120.30 284.23h-5.5M423.80 284.23h-5M120.30 273.39h-5.5M423.80 273.39h-5M120.30 265.70h-5.5M423.80 265.70h-5M120.30 259.73h-5.5M423.80 259.73h-5M120.30 254.86h-5.5M423.80 254.86h-5M120.30 250.74h-5.5M423.80 250.74h-5M120.30 247.17h-5.5M423.80 247.17h-5M120.30 244.02h-5.5M423.80 244.02h-5M120.30 241.20h-11M423.80 241.20h-10M120.30 222.67h-5.5M423.80 222.67h-5M120.30 211.83h-5.5M423.80 211.83h-5M120.30 204.14h-5.5M423.80 204.14h-5M120.30 198.17h-5.5M423.80 198.17h-5M120.30 193.30h-5.5M423.80 193.30h-5M120.30 189.18h-5.5M423.80 189.18h-5M120.30 185.61h-5.5M423.80 185.61h-5M120.30 182.46h-5.5M423.80 182.46h-5M120.30 179.64h-11M423.80 179.64h-10M120.30 161.11h-5.5M423.80 161.11h-5M120.30 150.27h-5.5M423.80 150.27h-5M120.30 142.58h-5.5M423.80 142.58h-5M120.30 136.61h-5.5M423.80 136.61h-5M120.30 131.74h-5.5M423.80 131.74h-5M120.30 127.62h-5.5M423.80 127.62h-5M120.30 124.05h-5.5M423.80 124.05h-5M120.30 120.90h-5.5M423.80 120.90h-5M120.30 118.08h-11M423.80 118.08h-10M120.30 99.55h-5.5M423.80 99.55h-5M120.30 88.71h-5.5M423.80 88.71h-5M120.30 81.02h-5.5M423.80 81.02h-5M120.30 75.05h-5.5M423.80 75.05h-5M120.30 70.18h-5.5M423.80 70.18h-5M120.30 66.06h-5.5M423.80 66.06h-5M120.30 62.49h-5.5M423.80 62.49h-5M120.30 59.34h-5.5M423.80 59.34h-5M120.30 56.52h-11M423.80 56.52h-10M120.30 37.99h-5.5M423.80 37.99h-5M120.30 27.15h-5.5M423.80 27.15h-5M120.30 19.46h-5.5M423.80 19.46h-5" stroke="#000" stroke-width="1.8" fill="none"/>
<rect x="120.30" y="19.40" width="303.50" height="529.60" fill="none" stroke="#000" stroke-width="1.7"/>
<path transform="translate(57.25 558.40) scale(0.01270)" d="M763 0L583 0L583 -1147Q518 -1085 415 -1024.5Q312 -964 223 -931L223 -1105Q374 -1176 484.5 -1275Q595 -1374 648 -1466L763 -1466Z"/><text x="71.71" y="558.40" font-size="26">0</text><text x="87.07" y="544.40" font-size="15">-</text><path transform="translate(92.06 544.40) scale(0.00732)" d="M763 0L583 0L583 -1147Q518 -1085 415 -1024.5Q312 -964 223 -931L223 -1105Q374 -1176 484.5 -1275Q595 -1374 648 -1466L763 -1466Z"/>
<path transform="translate(62.25 496.84) scale(0.01270)" d="M763 0L583 0L583 -1147Q518 -1085 415 -1024.5Q312 -964 223 -931L223 -1105Q374 -1176 484.5 -1275Q595 -1374 648 -1466L763 -1466Z"/><text x="76.70" y="496.84" font-size="26">0</text><text x="92.06" y="482.84" font-size="15">0</text>
<path transform="translate(62.25 435.28) scale(0.01270)" d="M763 0L583 0L583 -1147Q518 -1085 415 -1024.5Q312 -964 223 -931L223 -1105Q374 -1176 484.5 -1275Q595 -1374 648 -1466L763 -1466Z"/><text x="76.70" y="435.28" font-size="26">0</text><path transform="translate(92.06 421.28) scale(0.00732)" d="M763 0L583 0L583 -1147Q518 -1085 415 -1024.5Q312 -964 223 -931L223 -1105Q374 -1176 484.5 -1275Q595 -1374 648 -1466L763 -1466Z"/>
<path transform="translate(62.25 373.72) scale(0.01270)" d="M763 0L583 0L583 -1147Q518 -1085 415 -1024.5Q312 -964 223 -931L223 -1105Q374 -1176 484.5 -1275Q595 -1374 648 -1466L763 -1466Z"/><text x="76.70" y="373.72" font-size="26">0</text><text x="92.06" y="359.72" font-size="15">2</text>
<path transform="translate(62.25 312.16) scale(0.01270)" d="M763 0L583 0L583 -1147Q518 -1085 415 -1024.5Q312 -964 223 -931L223 -1105Q374 -1176 484.5 -1275Q595 -1374 648 -1466L763 -1466Z"/><text x="76.70" y="312.16" font-size="26">0</text><text x="92.06" y="298.16" font-size="15">3</text>
<path transform="translate(62.25 250.60) scale(0.01270)" d="M763 0L583 0L583 -1147Q518 -1085 415 -1024.5Q312 -964 223 -931L223 -1105Q374 -1176 484.5 -1275Q595 -1374 648 -1466L763 -1466Z"/><text x="76.70" y="250.60" font-size="26">0</text><text x="92.06" y="236.60" font-size="15">4</text>
<path transform="translate(62.25 189.04) scale(0.01270)" d="M763 0L583 0L583 -1147Q518 -1085 415 -1024.5Q312 -964 223 -931L223 -1105Q374 -1176 484.5 -1275Q595 -1374 648 -1466L763 -1466Z"/><text x="76.70" y="189.04" font-size="26">0</text><text x="92.06" y="175.04" font-size="15">5</text>
<path transform="translate(62.25 127.48) scale(0.01270)" d="M763 0L583 0L583 -1147Q518 -1085 415 -1024.5Q312 -964 223 -931L223 -1105Q374 -1176 484.5 -1275Q595 -1374 648 -1466L763 -1466Z"/><text x="76.70" y="127.48" font-size="26">0</text><text x="92.06" y="113.48" font-size="15">6</text>
<path transform="translate(62.25 65.92) scale(0.01270)" d="M763 0L583 0L583 -1147Q518 -1085 415 -1024.5Q312 -964 223 -931L223 -1105Q374 -1176 484.5 -1275Q595 -1374 648 -1466L763 -1466Z"/><text x="76.70" y="65.92" font-size="26">0</text><text x="92.06" y="51.92" font-size="15">7</text>
<path transform="translate(149.25 586.30) scale(0.01074)" d="M763 0L583 0L583 -1147Q518 -1085 415 -1024.5Q312 -964 223 -931L223 -1105Q374 -1176 484.5 -1275Q595 -1374 648 -1466L763 -1466Z"/><text x="161.49" y="586.30" font-size="22">0</text><text x="173.72" y="575.40" font-size="13">2</text>
<path transform="translate(213.85 586.30) scale(0.01074)" d="M763 0L583 0L583 -1147Q518 -1085 415 -1024.5Q312 -964 223 -931L223 -1105Q374 -1176 484.5 -1275Q595 -1374 648 -1466L763 -1466Z"/><text x="226.09" y="586.30" font-size="22">0</text><text x="238.32" y="575.40" font-size="13">3</text>
<path transform="translate(278.45 586.30) scale(0.01074)" d="M763 0L583 0L583 -1147Q518 -1085 415 -1024.5Q312 -964 223 -931L223 -1105Q374 -1176 484.5 -1275Q595 -1374 648 -1466L763 -1466Z"/><text x="290.69" y="586.30" font-size="22">0</text><text x="302.92" y="575.40" font-size="13">4</text>
<path transform="translate(343.05 586.30) scale(0.01074)" d="M763 0L583 0L583 -1147Q518 -1085 415 -1024.5Q312 -964 223 -931L223 -1105Q374 -1176 484.5 -1275Q595 -1374 648 -1466L763 -1466Z"/><text x="355.29" y="586.30" font-size="22">0</text><text x="367.52" y="575.40" font-size="13">5</text>
<path transform="translate(407.65 586.30) scale(0.01074)" d="M763 0L583 0L583 -1147Q518 -1085 415 -1024.5Q312 -964 223 -931L223 -1105Q374 -1176 484.5 -1275Q595 -1374 648 -1466L763 -1466Z"/><text x="419.89" y="586.30" font-size="22">0</text><text x="432.12" y="575.40" font-size="13">6</text>
<text x="272.1" y="627.8" text-anchor="middle" font-size="27.2">Frequency (Hz)</text>
<path d="M541.52 549.00v5M541.52 19.30v5M552.87 549.00v5M552.87 19.30v5M560.93 549.00v5M560.93 19.30v5M567.18 549.00v5M567.18 19.30v5M572.29 549.00v5M572.29 19.30v5M576.61 549.00v5M576.61 19.30v5M580.35 549.00v5M580.35 19.30v5M583.65 549.00v5M583.65 19.30v5M586.60 549.00v10M586.60 19.30v10M606.02 549.00v5M606.02 19.30v5M617.37 549.00v5M617.37 19.30v5M625.43 549.00v5M625.43 19.30v5M631.68 549.00v5M631.68 19.30v5M636.79 549.00v5M636.79 19.30v5M641.11 549.00v5M641.11 19.30v5M644.85 549.00v5M644.85 19.30v5M648.15 549.00v5M648.15 19.30v5M651.10 549.00v10M651.10 19.30v10M670.52 549.00v5M670.52 19.30v5M681.87 549.00v5M681.87 19.30v5M689.93 549.00v5M689.93 19.30v5M696.18 549.00v5M696.18 19.30v5M701.29 549.00v5M701.29 19.30v5M705.61 549.00v5M705.61 19.30v5M709.35 549.00v5M709.35 19.30v5M712.65 549.00v5M712.65 19.30v5M715.60 549.00v10M715.60 19.30v10M735.02 549.00v5M735.02 19.30v5M746.37 549.00v5M746.37 19.30v5M754.43 549.00v5M754.43 19.30v5M760.68 549.00v5M760.68 19.30v5M765.79 549.00v5M765.79 19.30v5M770.11 549.00v5M770.11 19.30v5M773.85 549.00v5M773.85 19.30v5M777.15 549.00v5M777.15 19.30v5M780.10 549.00v10M780.10 19.30v10M799.52 549.00v5M799.52 19.30v5M810.87 549.00v5M810.87 19.30v5M818.93 549.00v5M818.93 19.30v5M825.18 549.00v5M825.18 19.30v5M830.29 549.00v5M830.29 19.30v5M834.61 549.00v5M834.61 19.30v5M838.35 549.00v5M838.35 19.30v5M841.65 549.00v5M841.65 19.30v5M844.60 549.00v10M844.60 19.30v10M541.60 549.00h-11M844.60 549.00h-10M541.60 536.35h-5.5M844.60 536.35h-5M541.60 528.95h-5.5M844.60 528.95h-5M541.60 523.70h-5.5M844.60 523.70h-5M541.60 519.62h-5.5M844.60 519.62h-5M541.60 516.29h-5.5M844.60 516.29h-5M541.60 513.48h-5.5M844.60 513.48h-5M541.60 511.04h-5.5M844.60 511.04h-5M541.60 508.89h-5.5M844.60 508.89h-5M541.60 506.97h-11M844.60 506.97h-10M541.60 494.32h-5.5M844.60 494.32h-5M541.60 486.92h-5.5M844.60 486.92h-5M541.60 481.67h-5.5M844.60 481.67h-5M541.60 477.59h-5.5M844.60 477.59h-5M541.60 474.26h-5.5M844.60 474.26h-5M541.60 471.45h-5.5M844.60 471.45h-5M541.60 469.01h-5.5M844.60 469.01h-5M541.60 466.86h-5.5M844.60 466.86h-5M541.60 464.94h-11M844.60 464.94h-10M541.60 452.29h-5.5M844.60 452.29h-5M541.60 444.89h-5.5M844.60 444.89h-5M541.60 439.64h-5.5M844.60 439.64h-5M541.60 435.56h-5.5M844.60 435.56h-5M541.60 432.23h-5.5M844.60 432.23h-5M541.60 429.42h-5.5M844.60 429.42h-5M541.60 426.98h-5.5M844.60 426.98h-5M541.60 424.83h-5.5M844.60 424.83h-5M541.60 422.91h-11M844.60 422.91h-10M541.60 410.26h-5.5M844.60 410.26h-5M541.60 402.86h-5.5M844.60 402.86h-5M541.60 397.61h-5.5M844.60 397.61h-5M541.60 393.53h-5.5M844.60 393.53h-5M541.60 390.20h-5.5M844.60 390.20h-5M541.60 387.39h-5.5M844.60 387.39h-5M541.60 384.95h-5.5M844.60 384.95h-5M541.60 382.80h-5.5M844.60 382.80h-5M541.60 380.88h-11M844.60 380.88h-10M541.60 368.23h-5.5M844.60 368.23h-5M541.60 360.83h-5.5M844.60 360.83h-5M541.60 355.58h-5.5M844.60 355.58h-5M541.60 351.50h-5.5M844.60 351.50h-5M541.60 348.17h-5.5M844.60 348.17h-5M541.60 345.36h-5.5M844.60 345.36h-5M541.60 342.92h-5.5M844.60 342.92h-5M541.60 340.77h-5.5M844.60 340.77h-5M541.60 338.85h-11M844.60 338.85h-10M541.60 326.20h-5.5M844.60 326.20h-5M541.60 318.80h-5.5M844.60 318.80h-5M541.60 313.55h-5.5M844.60 313.55h-5M541.60 309.47h-5.5M844.60 309.47h-5M541.60 306.14h-5.5M844.60 306.14h-5M541.60 303.33h-5.5M844.60 303.33h-5M541.60 300.89h-5.5M844.60 300.89h-5M541.60 298.74h-5.5M844.60 298.74h-5M541.60 296.82h-11M844.60 296.82h-10M541.60 284.17h-5.5M844.60 284.17h-5M541.60 276.77h-5.5M844.60 276.77h-5M541.60 271.52h-5.5M844.60 271.52h-5M541.60 267.44h-5.5M844.60 267.44h-5M541.60 264.11h-5.5M844.60 264.11h-5M541.60 261.30h-5.5M844.60 261.30h-5M541.60 258.86h-5.5M844.60 258.86h-5M541.60 256.71h-5.5M844.60 256.71h-5M541.60 254.79h-11M844.60 254.79h-10M541.60 242.14h-5.5M844.60 242.14h-5M541.60 234.74h-5.5M844.60 234.74h-5M541.60 229.49h-5.5M844.60 229.49h-5M541.60 225.41h-5.5M844.60 225.41h-5M541.60 222.08h-5.5M844.60 222.08h-5M541.60 219.27h-5.5M844.60 219.27h-5M541.60 216.83h-5.5M844.60 216.83h-5M541.60 214.68h-5.5M844.60 214.68h-5M541.60 212.76h-11M844.60 212.76h-10M541.60 200.11h-5.5M844.60 200.11h-5M541.60 192.71h-5.5M844.60 192.71h-5M541.60 187.46h-5.5M844.60 187.46h-5M541.60 183.38h-5.5M844.60 183.38h-5M541.60 180.05h-5.5M844.60 180.05h-5M541.60 177.24h-5.5M844.60 177.24h-5M541.60 174.80h-5.5M844.60 174.80h-5M541.60 172.65h-5.5M844.60 172.65h-5M541.60 170.73h-11M844.60 170.73h-10M541.60 158.08h-5.5M844.60 158.08h-5M541.60 150.68h-5.5M844.60 150.68h-5M541.60 145.43h-5.5M844.60 145.43h-5M541.60 141.35h-5.5M844.60 141.35h-5M541.60 138.02h-5.5M844.60 138.02h-5M541.60 135.21h-5.5M844.60 135.21h-5M541.60 132.77h-5.5M844.60 132.77h-5M541.60 130.62h-5.5M844.60 130.62h-5M541.60 128.70h-11M844.60 128.70h-10M541.60 116.05h-5.5M844.60 116.05h-5M541.60 108.65h-5.5M844.60 108.65h-5M541.60 103.40h-5.5M844.60 103.40h-5M541.60 99.32h-5.5M844.60 99.32h-5M541.60 95.99h-5.5M844.60 95.99h-5M541.60 93.18h-5.5M844.60 93.18h-5M541.60 90.74h-5.5M844.60 90.74h-5M541.60 88.59h-5.5M844.60 88.59h-5M541.60 86.67h-11M844.60 86.67h-10M541.60 74.02h-5.5M844.60 74.02h-5M541.60 66.62h-5.5M844.60 66.62h-5M541.60 61.37h-5.5M844.60 61.37h-5M541.60 57.29h-5.5M844.60 57.29h-5M541.60 53.96h-5.5M844.60 53.96h-5M541.60 51.15h-5.5M844.60 51.15h-5M541.60 48.71h-5.5M844.60 48.71h-5M541.60 46.56h-5.5M844.60 46.56h-5M541.60 44.64h-11M844.60 44.64h-10M541.60 31.99h-5.5M844.60 31.99h-5M541.60 24.59h-5.5M844.60 24.59h-5M541.60 19.34h-5.5M844.60 19.34h-5" stroke="#000" stroke-width="1.8" fill="none"/>
<rect x="541.60" y="19.30" width="303.00" height="529.70" fill="none" stroke="#000" stroke-width="1.7"/>
<path transform="translate(479.25 558.40) scale(0.01270)" d="M763 0L583 0L583 -1147Q518 -1085 415 -1024.5Q312 -964 223 -931L223 -1105Q374 -1176 484.5 -1275Q595 -1374 648 -1466L763 -1466Z"/><text x="493.71" y="558.40" font-size="26">0</text><text x="509.06" y="544.40" font-size="15">-5</text>
<path transform="translate(479.25 516.37) scale(0.01270)" d="M763 0L583 0L583 -1147Q518 -1085 415 -1024.5Q312 -964 223 -931L223 -1105Q374 -1176 484.5 -1275Q595 -1374 648 -1466L763 -1466Z"/><text x="493.71" y="516.37" font-size="26">0</text><text x="509.06" y="502.37" font-size="15">-4</text>
<path transform="translate(479.25 474.34) scale(0.01270)" d="M763 0L583 0L583 -1147Q518 -1085 415 -1024.5Q312 -964 223 -931L223 -1105Q374 -1176 484.5 -1275Q595 -1374 648 -1466L763 -1466Z"/><text x="493.71" y="474.34" font-size="26">0</text><text x="509.06" y="460.34" font-size="15">-3</text>
<path transform="translate(479.25 432.31) scale(0.01270)" d="M763 0L583 0L583 -1147Q518 -1085 415 -1024.5Q312 -964 223 -931L223 -1105Q374 -1176 484.5 -1275Q595 -1374 648 -1466L763 -1466Z"/><text x="493.71" y="432.31" font-size="26">0</text><text x="509.06" y="418.31" font-size="15">-2</text>
<path transform="translate(479.25 390.28) scale(0.01270)" d="M763 0L583 0L583 -1147Q518 -1085 415 -1024.5Q312 -964 223 -931L223 -1105Q374 -1176 484.5 -1275Q595 -1374 648 -1466L763 -1466Z"/><text x="493.71" y="390.28" font-size="26">0</text><text x="509.06" y="376.28" font-size="15">-</text><path transform="translate(514.06 376.28) scale(0.00732)" d="M763 0L583 0L583 -1147Q518 -1085 415 -1024.5Q312 -964 223 -931L223 -1105Q374 -1176 484.5 -1275Q595 -1374 648 -1466L763 -1466Z"/>
<path transform="translate(484.25 348.25) scale(0.01270)" d="M763 0L583 0L583 -1147Q518 -1085 415 -1024.5Q312 -964 223 -931L223 -1105Q374 -1176 484.5 -1275Q595 -1374 648 -1466L763 -1466Z"/><text x="498.70" y="348.25" font-size="26">0</text><text x="514.06" y="334.25" font-size="15">0</text>
<path transform="translate(484.25 306.22) scale(0.01270)" d="M763 0L583 0L583 -1147Q518 -1085 415 -1024.5Q312 -964 223 -931L223 -1105Q374 -1176 484.5 -1275Q595 -1374 648 -1466L763 -1466Z"/><text x="498.70" y="306.22" font-size="26">0</text><path transform="translate(514.06 292.22) scale(0.00732)" d="M763 0L583 0L583 -1147Q518 -1085 415 -1024.5Q312 -964 223 -931L223 -1105Q374 -1176 484.5 -1275Q595 -1374 648 -1466L763 -1466Z"/>
<path transform="translate(484.25 264.19) scale(0.01270)" d="M763 0L583 0L583 -1147Q518 -1085 415 -1024.5Q312 -964 223 -931L223 -1105Q374 -1176 484.5 -1275Q595 -1374 648 -1466L763 -1466Z"/><text x="498.70" y="264.19" font-size="26">0</text><text x="514.06" y="250.19" font-size="15">2</text>
<path transform="translate(484.25 222.16) scale(0.01270)" d="M763 0L583 0L583 -1147Q518 -1085 415 -1024.5Q312 -964 223 -931L223 -1105Q374 -1176 484.5 -1275Q595 -1374 648 -1466L763 -1466Z"/><text x="498.70" y="222.16" font-size="26">0</text><text x="514.06" y="208.16" font-size="15">3</text>
<path transform="translate(484.25 180.13) scale(0.01270)" d="M763 0L583 0L583 -1147Q518 -1085 415 -1024.5Q312 -964 223 -931L223 -1105Q374 -1176 484.5 -1275Q595 -1374 648 -1466L763 -1466Z"/><text x="498.70" y="180.13" font-size="26">0</text><text x="514.06" y="166.13" font-size="15">4</text>
<path transform="translate(484.25 138.10) scale(0.01270)" d="M763 0L583 0L583 -1147Q518 -1085 415 -1024.5Q312 -964 223 -931L223 -1105Q374 -1176 484.5 -1275Q595 -1374 648 -1466L763 -1466Z"/><text x="498.70" y="138.10" font-size="26">0</text><text x="514.06" y="124.10" font-size="15">5</text>
<path transform="translate(484.25 96.07) scale(0.01270)" d="M763 0L583 0L583 -1147Q518 -1085 415 -1024.5Q312 -964 223 -931L223 -1105Q374 -1176 484.5 -1275Q595 -1374 648 -1466L763 -1466Z"/><text x="498.70" y="96.07" font-size="26">0</text><text x="514.06" y="82.07" font-size="15">6</text>
<path transform="translate(484.25 54.04) scale(0.01270)" d="M763 0L583 0L583 -1147Q518 -1085 415 -1024.5Q312 -964 223 -931L223 -1105Q374 -1176 484.5 -1275Q595 -1374 648 -1466L763 -1466Z"/><text x="498.70" y="54.04" font-size="26">0</text><text x="514.06" y="40.04" font-size="15">7</text>
<path transform="translate(571.15 586.30) scale(0.01074)" d="M763 0L583 0L583 -1147Q518 -1085 415 -1024.5Q312 -964 223 -931L223 -1105Q374 -1176 484.5 -1275Q595 -1374 648 -1466L763 -1466Z"/><text x="583.39" y="586.30" font-size="22">0</text><text x="595.62" y="575.40" font-size="13">2</text>
<path transform="translate(635.65 586.30) scale(0.01074)" d="M763 0L583 0L583 -1147Q518 -1085 415 -1024.5Q312 -964 223 -931L223 -1105Q374 -1176 484.5 -1275Q595 -1374 648 -1466L763 -1466Z"/><text x="647.89" y="586.30" font-size="22">0</text><text x="660.12" y="575.40" font-size="13">3</text>
<path transform="translate(700.15 586.30) scale(0.01074)" d="M763 0L583 0L583 -1147Q518 -1085 415 -1024.5Q312 -964 223 -931L223 -1105Q374 -1176 484.5 -1275Q595 -1374 648 -1466L763 -1466Z"/><text x="712.39" y="586.30" font-size="22">0</text><text x="724.62" y="575.40" font-size="13">4</text>
<path transform="translate(764.65 586.30) scale(0.01074)" d="M763 0L583 0L583 -1147Q518 -1085 415 -1024.5Q312 -964 223 -931L223 -1105Q374 -1176 484.5 -1275Q595 -1374 648 -1466L763 -1466Z"/><text x="776.89" y="586.30" font-size="22">0</text><text x="789.12" y="575.40" font-size="13">5</text>
<path transform="translate(829.15 586.30) scale(0.01074)" d="M763 0L583 0L583 -1147Q518 -1085 415 -1024.5Q312 -964 223 -931L223 -1105Q374 -1176 484.5 -1275Q595 -1374 648 -1466L763 -1466Z"/><text x="841.39" y="586.30" font-size="22">0</text><text x="853.62" y="575.40" font-size="13">6</text>
<text x="693.1" y="627.8" text-anchor="middle" font-size="27.2">Frequency (Hz)</text>
<text transform="translate(51.2 327.6) rotate(-90)" font-family='"Liberation Serif", serif' font-size="28">Z&#39;, Ω m</text>
<text transform="translate(469.8 330.8) rotate(-90)" font-family='"Liberation Serif", serif' font-size="28">Z&quot;, Ω m</text>
<text x="283.0" y="50.8" font-size="22.4">Ni@C (vol.%)</text>
<rect x="291.5" y="63.5" width="111" height="129.8" fill="#fff" stroke="#222" stroke-width="1"/>
<text x="293.5" y="80.9" font-size="17">Before/After</text>
<text x="293.5" y="101.6" font-size="17" letter-spacing="0.25">annealing</text>
<rect x="308.9" y="114.0" width="8.6" height="8.4" fill="#808000"/>
<text x="334.5" y="123.8" text-anchor="middle" font-size="17">/</text>
<rect x="352.5" y="114.3" width="7.8" height="7.8" fill="none" stroke="#808000" stroke-width="1"/>
<path transform="translate(380.60 123.60) scale(0.00830)" d="M763 0L583 0L583 -1147Q518 -1085 415 -1024.5Q312 -964 223 -931L223 -1105Q374 -1176 484.5 -1275Q595 -1374 648 -1466L763 -1466Z"/><text x="390.05" y="123.60" font-size="17">0</text>
<rect x="308.9" y="135.2" width="8.6" height="8.4" fill="#ff0000"/>
<text x="334.5" y="145.0" text-anchor="middle" font-size="17">/</text>
<rect x="352.5" y="135.5" width="7.8" height="7.8" fill="none" stroke="#c03030" stroke-width="1"/>
<path transform="translate(380.60 144.80) scale(0.00830)" d="M763 0L583 0L583 -1147Q518 -1085 415 -1024.5Q312 -964 223 -931L223 -1105Q374 -1176 484.5 -1275Q595 -1374 648 -1466L763 -1466Z"/><text x="390.05" y="144.80" font-size="17">5</text>
<rect x="308.9" y="156.4" width="8.6" height="8.4" fill="#0000ff"/>
<text x="334.5" y="166.2" text-anchor="middle" font-size="17">/</text>
<rect x="352.5" y="156.7" width="7.8" height="7.8" fill="none" stroke="#3030c0" stroke-width="1"/>
<text x="380.60" y="166.00" font-size="17">25</text>
<rect x="308.9" y="177.6" width="8.6" height="8.4" fill="#00ff00"/>
<text x="334.5" y="187.4" text-anchor="middle" font-size="17">/</text>
<rect x="352.5" y="177.9" width="7.8" height="7.8" fill="none" stroke="#30d030" stroke-width="1"/>
<text x="380.60" y="187.20" font-size="17">30</text>
</svg></body></html>
